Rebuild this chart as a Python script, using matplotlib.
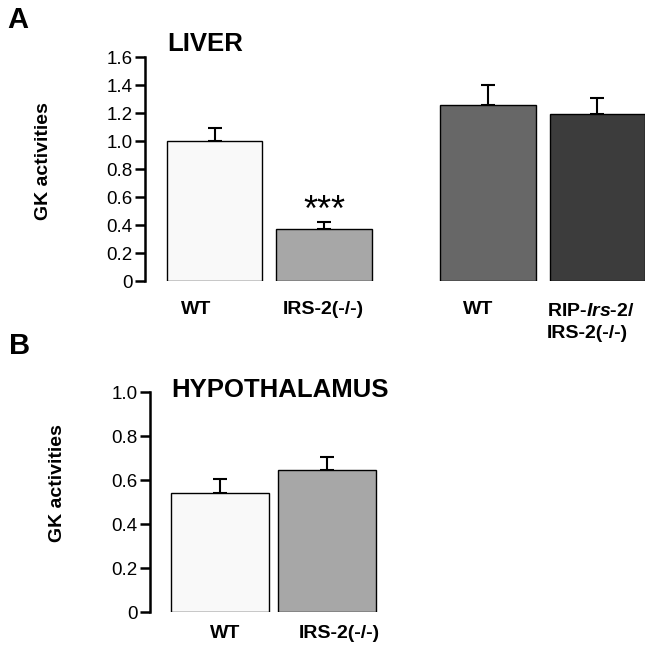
import matplotlib
matplotlib.use("Agg")
import matplotlib.pyplot as plt

plt.rcParams['font.family'] = ['Liberation Sans', 'DejaVu Sans']
plt.rcParams['mathtext.fontset'] = 'custom'
plt.rcParams['mathtext.rm'] = 'Liberation Sans:bold'
plt.rcParams['mathtext.it'] = 'Liberation Sans:italic:bold'
plt.rcParams['mathtext.bf'] = 'Liberation Sans:bold'

# ---- data ----
liver_labels = ["WT", "IRS-2(-/-)", "WT", "RIP-$\\mathit{Irs}$-$\\mathit{2/}$\nIRS-2(-/-)"]
liver_values = [1.00, 0.37, 1.26, 1.19]
liver_errors = [0.09, 0.05, 0.14, 0.12]
liver_colors = ["#f9f9f9", "#a7a7a7", "#676767", "#3c3c3c"]
liver_positions = [0, 1, 2.5, 3.5]

hypo_labels = ["WT", "IRS-2(-/-)"]
hypo_values = [0.54, 0.645]
hypo_errors = [0.065, 0.06]
hypo_colors = ["#f9f9f9", "#a7a7a7"]
hypo_positions = [0, 1]

liver_yticks = [0, 0.2, 0.4, 0.6, 0.8, 1.0, 1.2, 1.4, 1.6]
liver_yticklabels = ["0", "0.2", "0.4", "0.6", "0.8", "1.0", "1.2", "1.4", "1.6"]
hypo_yticks = [0, 0.2, 0.4, 0.6, 0.8, 1.0]
hypo_yticklabels = ["0", "0.2", "0.4", "0.6", "0.8", "1.0"]

W, H = 652, 658
fig = plt.figure(figsize=(W / 100, H / 100), dpi=100)


def px(x, y):
    return x / W, 1 - y / H


def style_axes(ax, yticks, yticklabels, ymax):
    for s in ["top", "right", "bottom"]:
        ax.spines[s].set_visible(False)
    ax.spines["left"].set_linewidth(1.8)
    ax.set_yticks(yticks)
    ax.set_yticklabels(yticklabels, fontsize=13.5)
    ax.set_ylim(0, ymax)
    ax.tick_params(axis="y", direction="out", length=7, width=1.8, pad=2)
    ax.set_xticks([])
    ax.patch.set_alpha(0)


def draw_bars(ax, positions, values, errors, colors, width):
    ax.bar(positions, values, width=width, color=colors, edgecolor="black",
           linewidth=1.0, zorder=3)
    ax.errorbar(positions, values, yerr=[[0] * len(errors), errors], fmt="none",
                ecolor="black", elinewidth=1.5, capsize=5, capthick=1.5, zorder=2)


# ---- Panel A ----
axA = fig.add_axes([145 / W, 1 - 281 / H, 500 / W, 224 / H])
draw_bars(axA, liver_positions, liver_values, liver_errors, liver_colors, 0.87)
axA.set_xlim(-0.637, 3.935)
style_axes(axA, liver_yticks, liver_yticklabels, 1.6)
axA.text(liver_positions[1], 0.50, "***", ha="center", va="center", fontsize=26)

# ---- Panel B ----
axB = fig.add_axes([150 / W, 1 - 612.3 / H, 245 / W, 220 / H])
draw_bars(axB, hypo_positions, hypo_values, hypo_errors, hypo_colors, 0.91)
axB.set_xlim(-0.65, 1.63)
style_axes(axB, hypo_yticks, hypo_yticklabels, 1.0)

# ---- category labels (pixel layout positions) ----
lab_kw = dict(fontsize=14, fontweight="bold", va="center")
fig.text(*px(196, 309), liver_labels[0], ha="center", **lab_kw)
fig.text(*px(323, 309), liver_labels[1], ha="center", **lab_kw)
fig.text(*px(478, 309), liver_labels[2], ha="center", **lab_kw)
fig.text(*px(547, 322.5), liver_labels[3], ha="left", multialignment="left",
         linespacing=1.35, **lab_kw)
fig.text(*px(225, 634), hypo_labels[0], ha="center", **lab_kw)
fig.text(*px(339, 634), hypo_labels[1], ha="center", **lab_kw)

# ---- texts ----
fig.text(*px(7, 20), "A", fontsize=21, fontweight="bold", ha="left", va="center")
fig.text(*px(167, 44), "LIVER", fontsize=18.5, fontweight="bold", ha="left", va="center")
fig.text(*px(9, 346), "B", fontsize=21, fontweight="bold", ha="left", va="center")
fig.text(*px(171, 390), "HYPOTHALAMUS", fontsize=18.5, fontweight="bold", ha="left", va="center")
fig.text(*px(44, 161), "GK activities", fontsize=14, fontweight="bold", rotation=90,
         ha="center", va="center")
fig.text(*px(57, 483), "GK activities", fontsize=14, fontweight="bold", rotation=90,
         ha="center", va="center")

fig.savefig("out.png", dpi=100, facecolor="white")
